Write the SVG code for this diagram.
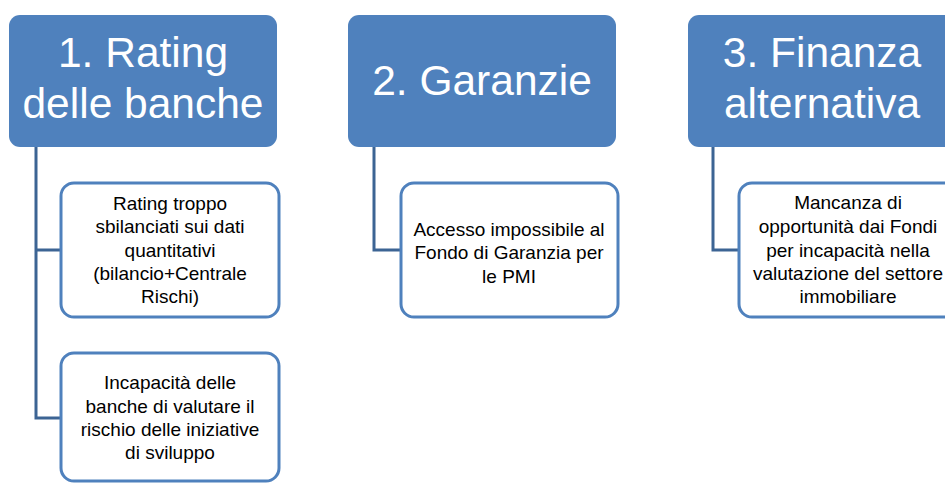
<svg xmlns="http://www.w3.org/2000/svg" width="945" height="483" viewBox="0 0 945 483">
<style>
.hdr{fill:#4F81BD;}
.hdrt{fill:#FFFFFF;font-family:"Liberation Sans",Arial,sans-serif;font-size:42.5px;text-anchor:middle;}
.child{fill:#FFFFFF;stroke:#4F81BD;stroke-width:3;}
.ct{fill:#000000;font-family:"Liberation Sans",Arial,sans-serif;font-size:19px;text-anchor:middle;}
.conn{fill:none;stroke:#3C6494;stroke-width:3;}
</style>
<rect width="945" height="483" fill="#FFFFFF"/>
<g id="connectors">
<path class="conn" d="M36,147 V418 H61 M36,250 H61"/>
<path class="conn" d="M374,147 V250 H401"/>
<path class="conn" d="M713,147 V250 H739"/>
</g>
<g id="h1">
<rect class="hdr" x="9" y="15" width="268" height="132" rx="11"/>
<text class="hdrt" x="143" y="67">1. Rating</text>
<text class="hdrt" x="143" y="118">delle banche</text>
</g>
<g id="h2">
<rect class="hdr" x="348" y="15" width="268" height="132" rx="11"/>
<text class="hdrt" x="482" y="95">2. Garanzie</text>
</g>
<g id="h3">
<rect class="hdr" x="688" y="15" width="268" height="132" rx="11"/>
<text class="hdrt" x="822" y="67">3. Finanza</text>
<text class="hdrt" x="822" y="118">alternativa</text>
</g>
<g id="c1">
<rect class="child" x="61" y="183" width="218" height="134" rx="13"/>
<text class="ct" x="170" y="210">Rating troppo</text>
<text class="ct" x="170" y="233">sbilanciati sui dati</text>
<text class="ct" x="170" y="257">quantitativi</text>
<text class="ct" x="170" y="280">(bilancio+Centrale</text>
<text class="ct" x="170" y="303">Rischi)</text>
</g>
<g id="c2">
<rect class="child" x="61" y="353" width="218" height="128" rx="13"/>
<text class="ct" x="170" y="389">Incapacità delle</text>
<text class="ct" x="170" y="413">banche di valutare il</text>
<text class="ct" x="170" y="436">rischio delle iniziative</text>
<text class="ct" x="170" y="459">di sviluppo</text>
</g>
<g id="c3">
<rect class="child" x="401" y="183" width="217" height="134" rx="13"/>
<text class="ct" x="509" y="236">Accesso impossibile al</text>
<text class="ct" x="509" y="259">Fondo di Garanzia per</text>
<text class="ct" x="509" y="283">le PMI</text>
</g>
<g id="c4">
<rect class="child" x="739" y="183" width="218" height="134" rx="13"/>
<text class="ct" x="848" y="209">Mancanza di</text>
<text class="ct" x="848" y="233">opportunità dai Fondi</text>
<text class="ct" x="848" y="257">per incapacità nella</text>
<text class="ct" x="848" y="280">valutazione del settore</text>
<text class="ct" x="848" y="303">immobiliare</text>
</g>
</svg>
